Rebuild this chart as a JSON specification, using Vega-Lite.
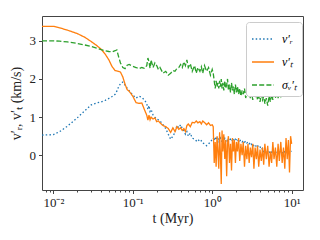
{
  "$schema": "https://vega.github.io/schema/vega-lite/v6.json",
  "autosize": {"type": "none"},
  "padding": {"left": 42, "top": 16, "right": 17, "bottom": 50},
  "width": 261,
  "height": 174,
  "background": "white",
  "config": {
    "view": {"stroke": "#444", "strokeWidth": 1},
    "font": "Liberation Serif",
    "axis": {"labelFont": "Liberation Serif", "titleFont": "Liberation Serif", "labelFontSize": 13, "titleFontSize": 14, "titleFontWeight": "normal", "labelColor": "#222", "titleColor": "#222", "tickColor": "#444", "domain": false, "grid": false, "tickSize": 3.5}
  },
  "data": {"values": [
    {"t":0.0072,"vr":0.53,"vt":3.38,"s":3.0},
    {"t":0.01,"vr":0.54,"vt":3.38,"s":3.0},
    {"t":0.012,"vr":0.62,"vt":3.34,"s":2.99},
    {"t":0.015,"vr":0.76,"vt":3.28,"s":2.97},
    {"t":0.02,"vr":0.98,"vt":3.19,"s":2.93},
    {"t":0.025,"vr":1.17,"vt":3.09,"s":2.89},
    {"t":0.03,"vr":1.32,"vt":2.98,"s":2.85},
    {"t":0.035,"vr":1.37,"vt":2.88,"s":2.81},
    {"t":0.04,"vr":1.4,"vt":2.78,"s":2.77},
    {"t":0.045,"vr":1.44,"vt":2.65,"s":2.74},
    {"t":0.05,"vr":1.49,"vt":2.5,"s":2.72},
    {"t":0.055,"vr":1.54,"vt":2.32,"s":2.71},
    {"t":0.06,"vr":1.6,"vt":2.22,"s":2.74},
    {"t":0.063,"vr":1.68,"vt":2.21,"s":2.76},
    {"t":0.066,"vr":1.78,"vt":2.2,"s":2.6},
    {"t":0.07,"vr":1.88,"vt":2.18,"s":2.42},
    {"t":0.075,"vr":1.92,"vt":2.05,"s":2.3},
    {"t":0.08,"vr":1.84,"vt":1.86,"s":2.27},
    {"t":0.085,"vr":1.76,"vt":1.72,"s":2.36},
    {"t":0.09,"vr":1.69,"vt":1.68,"s":2.38},
    {"t":0.1,"vr":1.58,"vt":1.55,"s":2.33},
    {"t":0.11,"vr":1.5,"vt":1.38,"s":2.3},
    {"t":0.12,"vr":1.55,"vt":1.36,"s":2.27},
    {"t":0.13,"vr":1.52,"vt":1.37,"s":2.3},
    {"t":0.14,"vr":1.45,"vt":1.2,"s":2.28},
    {"t":0.15,"vr":1.36,"vt":1.05,"s":2.35},
    {"t":0.155,"vr":1.2,"vt":0.92,"s":2.55},
    {"t":0.16,"vr":1.3,"vt":1.05,"s":2.45},
    {"t":0.165,"vr":1.15,"vt":0.93,"s":2.28},
    {"t":0.17,"vr":1.2,"vt":1.0,"s":2.5},
    {"t":0.18,"vr":1.06,"vt":0.95,"s":2.3},
    {"t":0.19,"vr":1.0,"vt":0.98,"s":2.42},
    {"t":0.2,"vr":0.95,"vt":0.88,"s":2.35},
    {"t":0.21,"vr":0.93,"vt":0.9,"s":2.25},
    {"t":0.22,"vr":0.9,"vt":0.85,"s":2.3},
    {"t":0.24,"vr":0.8,"vt":0.78,"s":2.15},
    {"t":0.26,"vr":0.7,"vt":0.75,"s":2.2},
    {"t":0.28,"vr":0.55,"vt":0.7,"s":2.1},
    {"t":0.3,"vr":0.42,"vt":0.6,"s":2.15},
    {"t":0.32,"vr":0.5,"vt":0.72,"s":2.22},
    {"t":0.34,"vr":0.6,"vt":0.62,"s":2.2},
    {"t":0.36,"vr":0.78,"vt":0.75,"s":2.28},
    {"t":0.38,"vr":0.72,"vt":0.68,"s":2.3},
    {"t":0.4,"vr":0.8,"vt":0.72,"s":2.38},
    {"t":0.42,"vr":0.7,"vt":0.65,"s":2.3},
    {"t":0.44,"vr":0.65,"vt":0.7,"s":2.45},
    {"t":0.46,"vr":0.55,"vt":0.62,"s":2.35},
    {"t":0.48,"vr":0.62,"vt":0.78,"s":2.5},
    {"t":0.5,"vr":0.5,"vt":0.82,"s":2.3},
    {"t":0.53,"vr":0.58,"vt":0.75,"s":2.4},
    {"t":0.56,"vr":0.45,"vt":0.86,"s":2.2},
    {"t":0.6,"vr":0.42,"vt":0.85,"s":2.35},
    {"t":0.63,"vr":0.38,"vt":0.9,"s":2.15},
    {"t":0.66,"vr":0.42,"vt":0.85,"s":2.3},
    {"t":0.7,"vr":0.35,"vt":0.88,"s":2.2},
    {"t":0.73,"vr":0.38,"vt":0.82,"s":2.32},
    {"t":0.76,"vr":0.32,"vt":0.9,"s":2.15},
    {"t":0.8,"vr":0.3,"vt":0.86,"s":2.35},
    {"t":0.85,"vr":0.25,"vt":0.8,"s":2.2},
    {"t":0.9,"vr":0.3,"vt":0.85,"s":2.3},
    {"t":0.95,"vr":0.35,"vt":0.78,"s":2.1},
    {"t":1.0,"vr":0.42,"vt":0.8,"s":2.25},
    {"t":1.03,"vr":0.45,"vt":0.75,"s":2.15},
    {"t":1.06,"vr":0.38,"vt":-0.2,"s":1.95},
    {"t":1.09,"vr":0.48,"vt":0.35,"s":1.75},
    {"t":1.12,"vr":0.4,"vt":-0.3,"s":1.95},
    {"t":1.15,"vr":0.45,"vt":0.5,"s":1.8},
    {"t":1.18,"vr":0.35,"vt":0.1,"s":1.9},
    {"t":1.21,"vr":0.42,"vt":-0.35,"s":1.75},
    {"t":1.24,"vr":0.38,"vt":0.6,"s":1.95},
    {"t":1.27,"vr":0.45,"vt":0.0,"s":1.8},
    {"t":1.3,"vr":0.4,"vt":-0.75,"s":2.0},
    {"t":1.33,"vr":0.35,"vt":0.65,"s":1.75},
    {"t":1.36,"vr":0.42,"vt":0.1,"s":1.9},
    {"t":1.4,"vr":0.38,"vt":0.55,"s":1.7},
    {"t":1.44,"vr":0.44,"vt":-0.1,"s":1.95},
    {"t":1.48,"vr":0.36,"vt":0.4,"s":1.75},
    {"t":1.52,"vr":0.42,"vt":-0.55,"s":1.85},
    {"t":1.56,"vr":0.38,"vt":0.3,"s":2.0},
    {"t":1.6,"vr":0.44,"vt":0.5,"s":1.7},
    {"t":1.65,"vr":0.38,"vt":-0.2,"s":1.85},
    {"t":1.7,"vr":0.42,"vt":0.3,"s":1.65},
    {"t":1.75,"vr":0.36,"vt":-0.4,"s":1.9},
    {"t":1.8,"vr":0.4,"vt":0.45,"s":1.7},
    {"t":1.85,"vr":0.44,"vt":0.1,"s":1.8},
    {"t":1.9,"vr":0.38,"vt":0.4,"s":1.6},
    {"t":1.96,"vr":0.42,"vt":-0.2,"s":1.85},
    {"t":2.02,"vr":0.4,"vt":0.35,"s":1.65},
    {"t":2.08,"vr":0.36,"vt":0.1,"s":1.8},
    {"t":2.15,"vr":0.42,"vt":0.45,"s":1.6},
    {"t":2.22,"vr":0.38,"vt":-0.15,"s":1.75},
    {"t":2.3,"vr":0.4,"vt":0.3,"s":1.55},
    {"t":2.38,"vr":0.35,"vt":0.0,"s":1.7},
    {"t":2.46,"vr":0.38,"vt":0.35,"s":1.6},
    {"t":2.55,"vr":0.34,"vt":-0.3,"s":1.75},
    {"t":2.64,"vr":0.37,"vt":0.25,"s":1.5},
    {"t":2.73,"vr":0.32,"vt":-0.1,"s":1.65},
    {"t":2.82,"vr":0.35,"vt":0.3,"s":1.55},
    {"t":2.92,"vr":0.3,"vt":-0.2,"s":1.7},
    {"t":3.02,"vr":0.34,"vt":0.2,"s":1.5},
    {"t":3.13,"vr":0.28,"vt":-0.05,"s":1.65},
    {"t":3.24,"vr":0.3,"vt":0.3,"s":1.45},
    {"t":3.35,"vr":0.25,"vt":-0.35,"s":1.6},
    {"t":3.47,"vr":0.28,"vt":0.2,"s":1.5},
    {"t":3.6,"vr":0.22,"vt":-0.1,"s":1.65},
    {"t":3.72,"vr":0.26,"vt":0.25,"s":1.45},
    {"t":3.85,"vr":0.2,"vt":-0.3,"s":1.55},
    {"t":4.0,"vr":0.22,"vt":0.15,"s":1.4},
    {"t":4.15,"vr":0.15,"vt":-0.15,"s":1.6},
    {"t":4.3,"vr":0.18,"vt":0.2,"s":1.45},
    {"t":4.45,"vr":0.1,"vt":-0.25,"s":1.55},
    {"t":4.6,"vr":0.14,"vt":0.3,"s":1.35},
    {"t":4.8,"vr":0.06,"vt":-0.1,"s":1.5},
    {"t":5.0,"vr":0.1,"vt":0.25,"s":1.3},
    {"t":5.2,"vr":0.05,"vt":-0.3,"s":1.55},
    {"t":5.4,"vr":0.12,"vt":0.1,"s":1.4},
    {"t":5.6,"vr":0.08,"vt":-0.2,"s":1.6},
    {"t":5.8,"vr":0.12,"vt":0.35,"s":1.45},
    {"t":6.0,"vr":0.06,"vt":-0.1,"s":1.6},
    {"t":6.25,"vr":0.1,"vt":0.2,"s":1.5},
    {"t":6.5,"vr":0.05,"vt":-0.3,"s":1.7},
    {"t":6.75,"vr":0.12,"vt":0.3,"s":1.5},
    {"t":7.0,"vr":0.08,"vt":-0.15,"s":1.65},
    {"t":7.3,"vr":0.1,"vt":0.35,"s":1.55},
    {"t":7.6,"vr":0.05,"vt":-0.2,"s":1.75},
    {"t":7.9,"vr":0.12,"vt":0.2,"s":1.6},
    {"t":8.2,"vr":0.08,"vt":-0.35,"s":1.8},
    {"t":8.5,"vr":0.1,"vt":0.45,"s":1.6},
    {"t":8.8,"vr":0.06,"vt":-0.1,"s":1.85},
    {"t":9.1,"vr":0.12,"vt":0.4,"s":1.65},
    {"t":9.4,"vr":0.08,"vt":-0.45,"s":1.95},
    {"t":9.7,"vr":0.1,"vt":0.5,"s":1.7},
    {"t":10.0,"vr":0.1,"vt":0.3,"s":1.9}
  ]},
  "transform": [{"fold": ["vr", "vt", "s"], "as": ["series", "v"]}],
  "layer": [
    {
      "mark": {"type": "line", "strokeWidth": 1.3, "clip": true},
      "encoding": {
        "x": {"field": "t", "type": "quantitative", "scale": {"type": "log", "domain": [0.0072, 13.9], "nice": false},
              "axis": {"values": [0.01, 0.1, 1, 10], "labelExpr": "datum.value < 0.05 ? '10⁻²' : datum.value < 0.5 ? '10⁻¹' : datum.value < 5 ? '10⁰' : '10¹'", "title": "t (Myr)", "orient": "bottom", "labelPadding": 3, "titlePadding": 2}},
        "y": {"field": "v", "type": "quantitative", "scale": {"domain": [-0.91, 3.65], "nice": false, "zero": false},
              "axis": {"values": [0, 1, 2, 3], "title": "v′ᵣ, v′ₜ (km/s)", "labelPadding": 3, "titlePadding": 6}},
        "color": {"field": "series", "type": "nominal", "sort": ["vr", "vt", "s"],
                  "scale": {"domain": ["vr", "vt", "s"], "range": ["#1f77b4", "#ff7f0e", "#2ca02c"]},
                  "legend": {"orient": "none", "legendX": 204, "legendY": 6, "title": null, "labelExpr": "datum.value == 'vr' ? 'v′ᵣ' : datum.value == 'vt' ? 'v′ₜ' : 'σᵥ′ₜ'", "labelFont": "Liberation Serif", "labelFontStyle": "italic", "labelFontSize": 12, "symbolType": "stroke", "symbolSize": 484, "symbolStrokeWidth": 1.3, "strokeColor": "#ccc", "fillColor": "white", "cornerRadius": 3, "padding": 5, "rowPadding": 5, "labelOffset": 7}},
        "strokeDash": {"field": "series", "type": "nominal", "sort": ["vr", "vt", "s"],
                       "scale": {"domain": ["vr", "vt", "s"], "range": [[1.5, 2.2], [1, 0], [5, 2.2]]},
                       "legend": null},
        "order": {"field": "t", "type": "quantitative"}
      }
    },
    {
      "data": {"values": [{"m": 0.008}]},
      "mark": {"type": "point", "opacity": 0},
      "encoding": {
        "x": {"field": "m", "type": "quantitative",
              "axis": {"orient": "bottom", "values": [0.008, 0.009, 0.02, 0.03, 0.04, 0.05, 0.06, 0.07, 0.08, 0.09, 0.2, 0.3, 0.4, 0.5, 0.6, 0.7, 0.8, 0.9, 2, 3, 4, 5, 6, 7, 8, 9], "labels": false, "tickSize": 2, "title": null}}
      }
    }
  ],
  "resolve": {"axis": {"x": "independent"}}
}
